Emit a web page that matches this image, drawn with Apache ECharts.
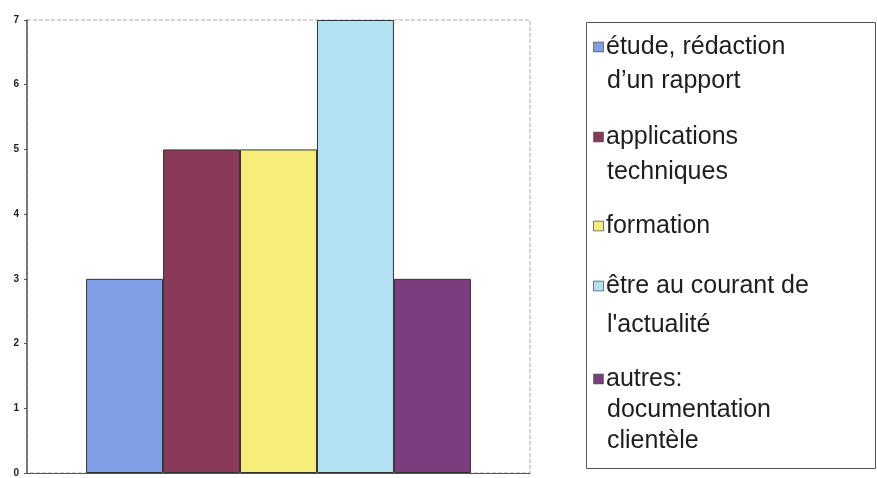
<!DOCTYPE html>
<html>
<head>
<meta charset="utf-8">
<script src="https://cdn.jsdelivr.net/npm/echarts@6/dist/echarts.min.js"></script>
<style>html,body{margin:0;padding:0;background:#fff}#c{width:877px;height:478px}</style>
</head>
<body>
<div id="c"></div>
<script>
var categories = ['usage'];
var seriesNames = ['étude, rédaction d’un rapport', 'applications techniques', 'formation', 'être au courant de l\'actualité', 'autres: documentation clientèle'];
var legendLabels = ['étude, rédaction\nd’un rapport', 'applications\ntechniques', 'formation', 'être au courant de\nl\'actualité', 'autres:\ndocumentation\nclientèle'];
var values = [3, 5, 5, 7, 3];
var yTicks = [0, 1, 2, 3, 4, 5, 6, 7];

var colors = ['#7f9fe6', '#8a3a58', '#f6ee78', '#b3e2f4', '#7b3d80'];
var legendCenters = [47, 137, 226, 286, 379];
var legendLH = [34, 35, 34, 39, 31];

var chart = echarts.init(document.getElementById('c'));
var series = seriesNames.map(function (n, i) {
  return {
    name: n, type: 'bar', data: [values[i]],
    barGap: '0%', barCategoryGap: '23.5%',
    itemStyle: { color: colors[i], borderColor: '#333', borderWidth: 1 }
  };
});
var legends = seriesNames.map(function (n, i) {
  var lh = legendLH[i];
  return {
    data: [n], orient: 'vertical', left: 587,
    top: legendCenters[i] - lh / 2,
    padding: 0, icon: 'rect', itemWidth: 1, itemHeight: 1,
    itemStyle: { opacity: 0 },
    selectedMode: false,
    formatter: function () {
      return legendLabels[i].split('\n').map(function (line, k) {
        return (k === 0 ? '{sq|}{sp|}' : '{ind|}') + '{t|' + line + '}';
      }).join('\n');
    },
    textStyle: {
      fontFamily: 'Liberation Sans, Arial, sans-serif', fontSize: 25, color: '#1e1e1e', lineHeight: lh,
      rich: {
        sq: { width: 9, height: 9, backgroundColor: colors[i], borderColor: '#555', borderWidth: 0.8, verticalAlign: 'middle', lineHeight: lh },
        sp: { width: 3, lineHeight: lh },
        ind: { width: 13, lineHeight: lh },
        t: { fontFamily: 'Liberation Sans, Arial, sans-serif', fontSize: 25, color: '#1e1e1e', lineHeight: lh }
      }
    }
  };
});
chart.setOption({
  animation: false,
  color: colors,
  grid: { left: 27, right: 347, top: 20, bottom: 1, show: true, borderColor: '#aaa', borderWidth: 1, borderType: 'dashed' },
  legend: legends,
  xAxis: { type: 'category', data: categories, axisLine: { lineStyle: { color: '#555' } }, axisTick: { show: false }, axisLabel: { show: false } },
  yAxis: {
    type: 'value', min: yTicks[0], max: yTicks[yTicks.length - 1], interval: 1,
    splitLine: { show: false },
    axisLine: { show: true, lineStyle: { color: '#555', width: 1.5 } },
    axisTick: { show: true, length: 3, lineStyle: { color: '#555' } },
    axisLabel: { fontFamily: 'Liberation Sans, Arial, sans-serif', fontSize: 10, fontWeight: 'bold', color: '#222', margin: 8 }
  },
  graphic: [{ type: 'rect', shape: { x: 586.5, y: 22.5, width: 289, height: 446 }, style: { fill: 'none', stroke: '#555', lineWidth: 1 }, silent: true }],
  series: series
});
</script>
</body>
</html>
